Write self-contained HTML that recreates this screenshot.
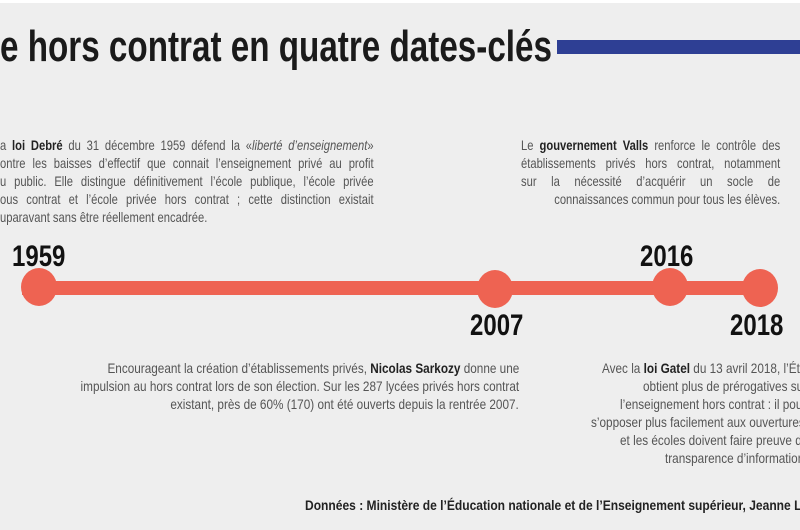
<!DOCTYPE html>
<html><head><meta charset="utf-8"><style>
html,body{margin:0;width:800px;height:530px;overflow:hidden;background:#fff;font-family:"Liberation Sans",sans-serif}
#w{position:relative;width:800px;height:530px;overflow:hidden}
#bg{position:absolute;left:0;top:3px;width:800px;height:527px;background:#eeeeee}
.l{position:absolute;white-space:nowrap;font-size:14px;line-height:18px;color:#555;transform:scaleX(.84);transform-origin:0 0}
.r{transform-origin:100% 0}
.j{text-align:justify;text-align-last:justify;transform:scaleX(.8)}
b{color:#222}
.y{position:absolute;font-size:30px;line-height:30px;color:#111;font-weight:bold;transform:scaleX(.8);transform-origin:0 0}
.c{position:absolute;border-radius:50%;background:#ee6352;width:36px;height:38px}
</style></head><body><div id="w"><div id="bg"></div>
<div style="position:absolute;left:0;top:22px;font-size:44px;font-weight:bold;color:#1a1a1a;white-space:nowrap;transform:scaleX(.755);transform-origin:0 0;line-height:50px">e hors contrat en quatre dates-clés</div>
<div style="position:absolute;left:557px;top:40px;width:243px;height:14px;background:#2e3f94"></div>

<div class="l j" style="left:0;top:136px;width:467px">a <b>loi Debré</b> du 31 décembre 1959 défend la «<i>liberté d’enseignement</i>»</div>
<div class="l j" style="left:0;top:154px;width:467px">ontre les baisses d’effectif que connait l’enseignement privé au profit</div>
<div class="l j" style="left:0;top:172px;width:467px">u public. Elle distingue définitivement l’école publique, l’école privée</div>
<div class="l j" style="left:0;top:190px;width:467px">ous contrat et l’école privée hors contrat ; cette distinction existait</div>
<div class="l" style="left:0;top:208px;transform:scaleX(.8)">uparavant sans être réellement encadrée.</div>

<div class="l j" style="left:521px;top:136px;width:324px">Le <b>gouvernement Valls</b> renforce le contrôle des</div>
<div class="l j" style="left:521px;top:154px;width:324px">établissements privés hors contrat, notamment</div>
<div class="l j" style="left:521px;top:172px;width:324px">sur la nécessité d’acquérir un socle de</div>
<div class="l" style="left:521px;top:190px;width:324px;text-align:right;transform:scaleX(.8)">connaissances commun pour tous les élèves.</div>

<div style="position:absolute;left:22px;top:281px;width:748px;height:14px;background:#ee6352"></div>
<div class="c" style="left:21px;top:268px"></div>
<div class="c" style="left:477px;top:270px"></div>
<div class="c" style="left:652px;top:268px"></div>
<div class="c" style="left:742px;top:269px"></div>
<div class="y" style="left:12px;top:242px">1959</div>
<div class="y" style="left:640px;top:242px">2016</div>
<div class="y" style="left:470px;top:311px">2007</div>
<div class="y" style="left:730px;top:311px">2018</div>

<div class="l r" style="right:281px;top:359px">Encourageant la création d’établissements privés, <b>Nicolas Sarkozy</b> donne une</div>
<div class="l r" style="right:281px;top:377px">impulsion au hors contrat lors de son élection. Sur les 287 lycées privés hors contrat</div>
<div class="l r" style="right:281px;top:395px">existant, près de 60% (170) ont été ouverts depuis la rentrée 2007.</div>

<div class="l" style="left:602px;top:359px">Avec la <b>loi Gatel</b> du 13 avril 2018, l’État</div>
<div class="l" style="left:643px;top:377px">obtient plus de prérogatives sur</div>
<div class="l" style="left:620px;top:395px">l’enseignement hors contrat : il pourra</div>
<div class="l" style="left:591px;top:413px">s’opposer plus facilement aux ouvertures</div>
<div class="l" style="left:620px;top:431px">et les écoles doivent faire preuve de</div>
<div class="l" style="left:665px;top:449px">transparence d’information.</div>

<div class="l" style="left:305px;top:496px;font-weight:bold;color:#222;font-size:14px;transform:scaleX(.86)">Données : Ministère de l’Éducation nationale et de l’Enseignement supérieur, Jeanne Le Roy</div>
</div></body></html>
